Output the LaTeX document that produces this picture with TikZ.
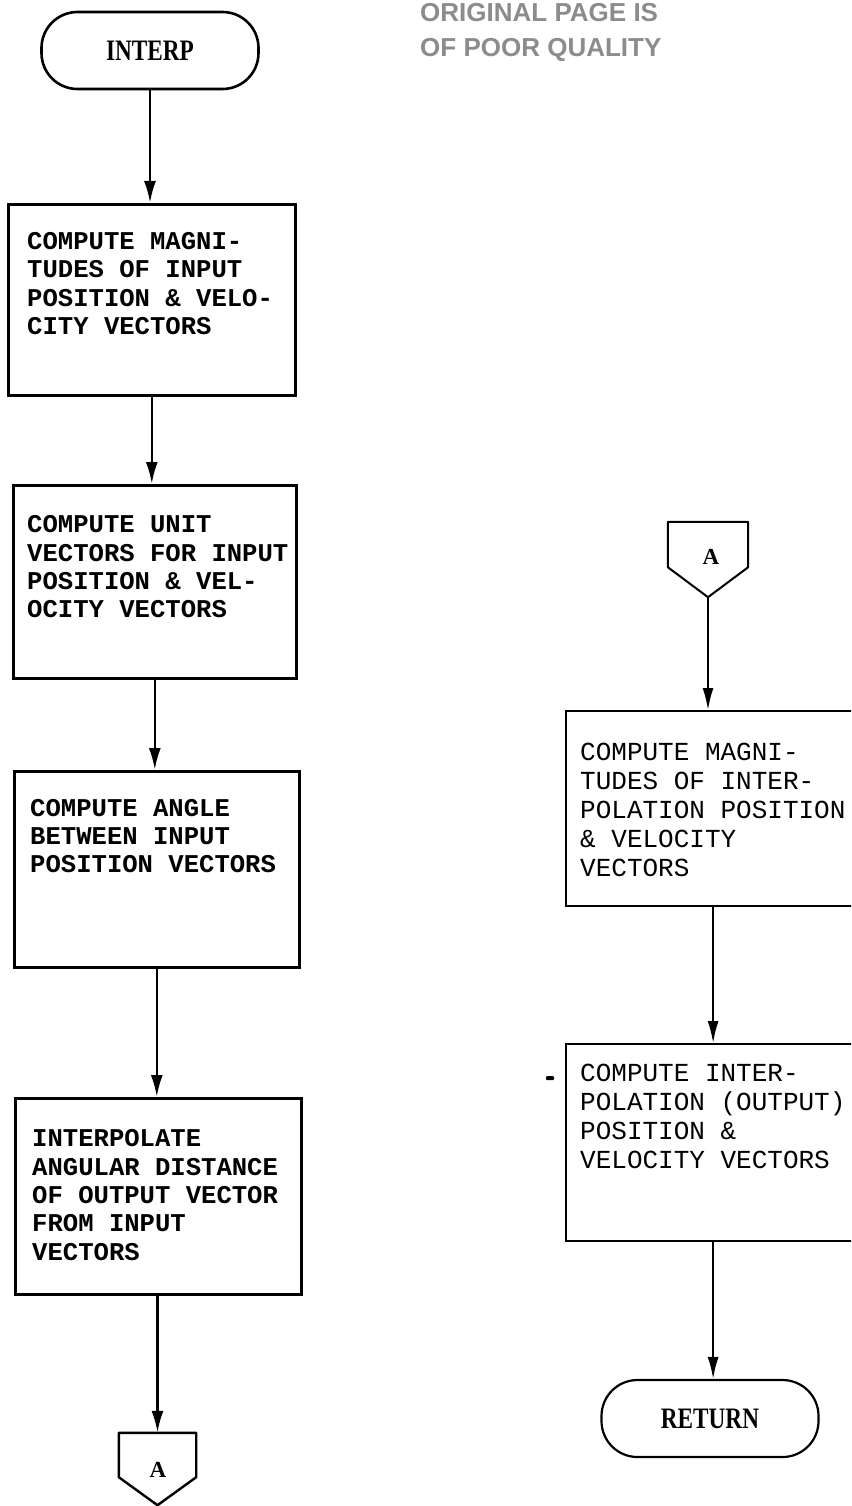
\documentclass[tikz,border=0pt]{standalone}
\usepackage{fontspec}
\setmonofont{Liberation Mono}
\newfontfamily\termfont{Liberation Serif}
\newfontfamily\stampfont{Liberation Sans}
\usetikzlibrary{arrows.meta}
\begin{document}
\begin{tikzpicture}[x=1pt,y=-1pt,
  lbox/.style={draw, line width=2.6pt, inner sep=0pt, anchor=north west},
  rbox/.style={draw, line width=2.2pt, inner sep=0pt, anchor=north west},
  ltxt/.style={font=\ttfamily\bfseries\fontsize{25.6}{28.3}\selectfont, align=left, inner sep=0pt, anchor=west},
  rtxt/.style={font=\ttfamily\fontsize{26}{29}\selectfont, align=left, inner sep=0pt, anchor=west},
  term/.style={draw, line width=2.6pt, rounded corners=36pt, minimum width=217pt, minimum height=77pt, inner sep=0pt, font=\termfont\bfseries\fontsize{27}{30}\selectfont},
  conshape/.style={line width=2.4pt, line join=round},
  ctxt/.style={font=\termfont\bfseries\fontsize{23}{25}\selectfont, inner sep=0pt},
  larr/.style={line width=2.6pt, -{Latex[length=22pt,width=12pt]}},
  rarr/.style={line width=2.0pt, -{Latex[length=22pt,width=11pt]}}
]
\useasboundingbox (0,0) rectangle (851,1506);
\clip (0,0) rectangle (851,1506);
\fill[white] (0,0) rectangle (851,1506);

% stamp text
\node[font=\stampfont\bfseries\fontsize{26}{35}\selectfont, text=black!45, align=left, inner sep=0pt, anchor=south west] (stamp) at (420,62) {ORIGINAL PAGE IS\\OF POOR QUALITY};

% left column
\node[term] (interp) at (150,50.5) {\scalebox{0.86}[1.1]{INTERP}};

\node[lbox, minimum width=287pt, minimum height=191pt] (b1) at (7,203) {};
\node[ltxt] (t1) at (27,283.5) {COMPUTE MAGNI-\\TUDES OF INPUT\\POSITION \& VELO-\\CITY VECTORS};

\node[lbox, minimum width=283pt, minimum height=193pt] (b2) at (12,484) {};
\node[ltxt] (t2) at (27,567) {COMPUTE UNIT\\VECTORS FOR INPUT\\POSITION \& VEL-\\OCITY VECTORS};

\node[lbox, minimum width=285pt, minimum height=196pt] (b3) at (13,770) {};
\node[ltxt] (t3) at (30,836) {COMPUTE ANGLE\\BETWEEN INPUT\\POSITION VECTORS};

\node[lbox, minimum width=286pt, minimum height=196pt] (b4) at (14,1097) {};
\node[ltxt] (t4) at (32,1195) {INTERPOLATE\\ANGULAR DISTANCE\\OF OUTPUT VECTOR\\FROM INPUT\\VECTORS};

\node[minimum width=77pt, minimum height=72pt, inner sep=0pt] (A1) at (157.5,1469) {};
\draw[conshape] (A1.north west) -- (A1.north east) -- ([yshift=28pt]A1.south east) -- (A1.south) -- ([yshift=28pt]A1.south west) -- cycle;
\node[ctxt] (A1t) at (158,1470) {A};

\draw[larr] (interp.south) -- (interp.south |- b1.north);
\draw[larr] (b1.south) -- (b1.south |- b2.north);
\draw[larr] (b2.south) -- (b2.south |- b3.north);
\draw[larr] (b3.south) -- (b3.south |- b4.north);
\draw[larr] (b4.south -| A1.north) -- (A1.north);

% right column
\node[minimum width=80pt, minimum height=75pt, inner sep=0pt] (A2) at (708,559.5) {};
\draw[conshape, line width=2.0pt] (A2.north west) -- (A2.north east) -- ([yshift=30pt]A2.south east) -- (A2.south) -- ([yshift=30pt]A2.south west) -- cycle;
\node[ctxt] (A2t) at (711,557) {A};

\node[rbox, minimum width=294pt, minimum height=195pt] (b5) at (565,710) {};
\node[rtxt] (t5) at (580,810) {COMPUTE MAGNI-\\TUDES OF INTER-\\POLATION POSITION\\\& VELOCITY\\VECTORS};

\node[rbox, minimum width=294pt, minimum height=197pt] (b6) at (565,1043) {};
\node[rtxt] (t6) at (580,1116) {COMPUTE INTER-\\POLATION (OUTPUT)\\POSITION \&\\VELOCITY VECTORS};

\node[term, line width=2.2pt] (ret) at (710,1418.5) {\scalebox{0.86}[1.1]{RETURN}};

\fill[rounded corners=1pt] (546,1076) rectangle (554,1080);

\draw[rarr] (A2.south) -- (A2.south |- b5.north);
\draw[rarr] (b5.south) -- (b5.south |- b6.north);
\draw[rarr] (b6.south) -- (b6.south |- ret.north);
\end{tikzpicture}
\end{document}
